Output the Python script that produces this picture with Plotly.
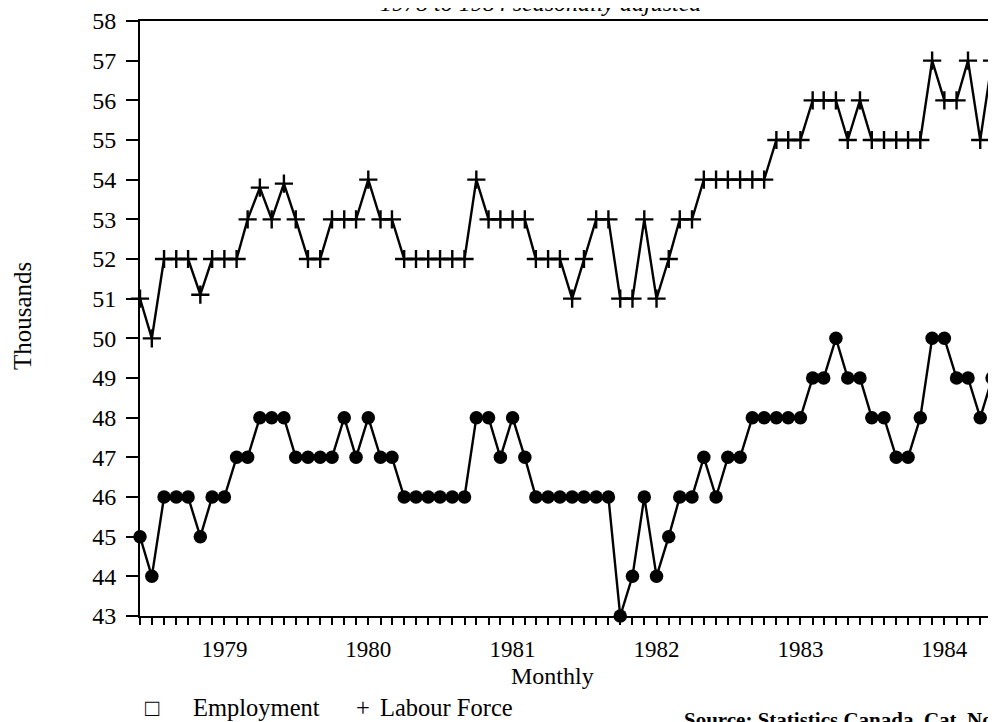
import plotly.graph_objects as go
import pandas as pd

# Monthly observations, June 1978 onward (thousands, seasonally adjusted)
months = pd.date_range("1978-06-01", periods=73, freq="MS")

employment = [
    45, 44, 46, 46, 46, 45, 46, 46, 47, 47, 48, 48, 48, 47, 47, 47, 47, 48, 47, 48,
    47, 47, 46, 46, 46, 46, 46, 46, 48, 48, 47, 48, 47, 46, 46, 46, 46, 46, 46, 46,
    43, 44, 46, 44, 45, 46, 46, 47, 46, 47, 47, 48, 48, 48, 48, 48, 49, 49, 50, 49,
    49, 48, 48, 47, 47, 48, 50, 50, 49, 49, 48, 49, 50,
]

labour_force = [
    51, 50, 52, 52, 52, 51.1, 52, 52, 52, 53, 53.8, 53, 53.9, 53, 52, 52, 53, 53, 53, 54,
    53, 53, 52, 52, 52, 52, 52, 52, 54, 53, 53, 53, 53, 52, 52, 52, 51, 52, 53, 53,
    51, 51, 53, 51, 52, 53, 53, 54, 54, 54, 54, 54, 54, 55, 55, 55, 56, 56, 56, 55,
    56, 55, 55, 55, 55, 55, 57, 56, 56, 57, 55, 57, 58,
]

year_ticks = ["1979-01-01", "1980-01-01", "1981-01-01", "1982-01-01", "1983-01-01", "1984-01-01"]
year_labels = ["1979", "1980", "1981", "1982", "1983", "1984"]

FONT = "Liberation Serif, Times New Roman, serif"

fig = go.Figure()
fig.add_trace(go.Scatter(
    x=months, y=labour_force, mode="lines+markers", name="Labour Force",
    line=dict(color="black", width=2.4),
    marker=dict(symbol="cross-thin", size=13, color="black", line=dict(color="black", width=2.4)),
    cliponaxis=False, showlegend=False,
))
fig.add_trace(go.Scatter(
    x=months, y=employment, mode="lines+markers", name="Employment",
    line=dict(color="black", width=2.4),
    marker=dict(symbol="circle", size=13.5, color="black"),
    cliponaxis=False, showlegend=False,
))

# the page places the figure 8 px from the top-left corner of the window
OFF = 8
W, H = 996 - OFF, 722 - OFF
L, R, T = 140 - OFF, 0, 19 - OFF
B = H - (616 - OFF)
PW, PH = W - L - R, H - T - B


def px(x):
    return (x - OFF - L) / PW


def py(y):
    return (H - B - (y - OFF)) / PH


def note(text, x, y, size, xanchor="center", yanchor="middle", **kw):
    return dict(text=text, x=px(x), y=py(y), xref="paper", yref="paper",
                xanchor=xanchor, yanchor=yanchor, showarrow=False,
                font=dict(size=size, family=FONT, color="black"), **kw)


fig.update_layout(
    width=W, height=H,
    margin=dict(l=L, r=R, t=T, b=B),
    paper_bgcolor="white", plot_bgcolor="white",
    font=dict(family=FONT, color="black", size=24),
    xaxis=dict(
        type="date", range=["1978-06-01", "1984-05-11"],
        showline=True, linecolor="black", linewidth=2, mirror=True,
        showgrid=False, zeroline=False,
        tickvals=year_ticks, ticktext=year_labels,
        ticks="outside", ticklen=7, tickwidth=2, tickcolor="black",
        ticklabelstandoff=4, ticklabeloverflow="allow",
        minor=dict(dtick="M1", tick0="1978-06-01", ticks="outside", ticklen=7,
                   tickwidth=2, tickcolor="black", showgrid=False),
        tickfont=dict(size=23, family=FONT, color="black"),
    ),
    yaxis=dict(
        range=[43, 58], dtick=1, tick0=43,
        showline=True, linecolor="black", linewidth=2,
        showgrid=False, zeroline=False,
        ticks="outside", ticklen=12, tickwidth=2, tickcolor="black",
        ticklabelstandoff=5, ticklabeloverflow="allow",
        tickfont=dict(size=24, family=FONT, color="black"),
    ),
    annotations=[
        note("<i>1978 to 1984 seasonally adjusted</i>", 541, 1, 24),
        note("Thousands", 22, 315, 25, textangle=-90),
        note("Monthly", 552, 676, 24),
        note("□", 152, 708, 24, borderpad=0),
        note("Employment", 192, 708, 24.5, xanchor="left", borderpad=0),
        note("+", 363, 708, 24.5, borderpad=0),
        note("Labour Force", 379, 708, 24.5, xanchor="left", borderpad=0),
        note("<b>Source: Statistics Canada, Cat. No.</b>", 682, 706, 21,
             xanchor="left", yanchor="top"),
    ],
)

fig.write_html("out.html")
